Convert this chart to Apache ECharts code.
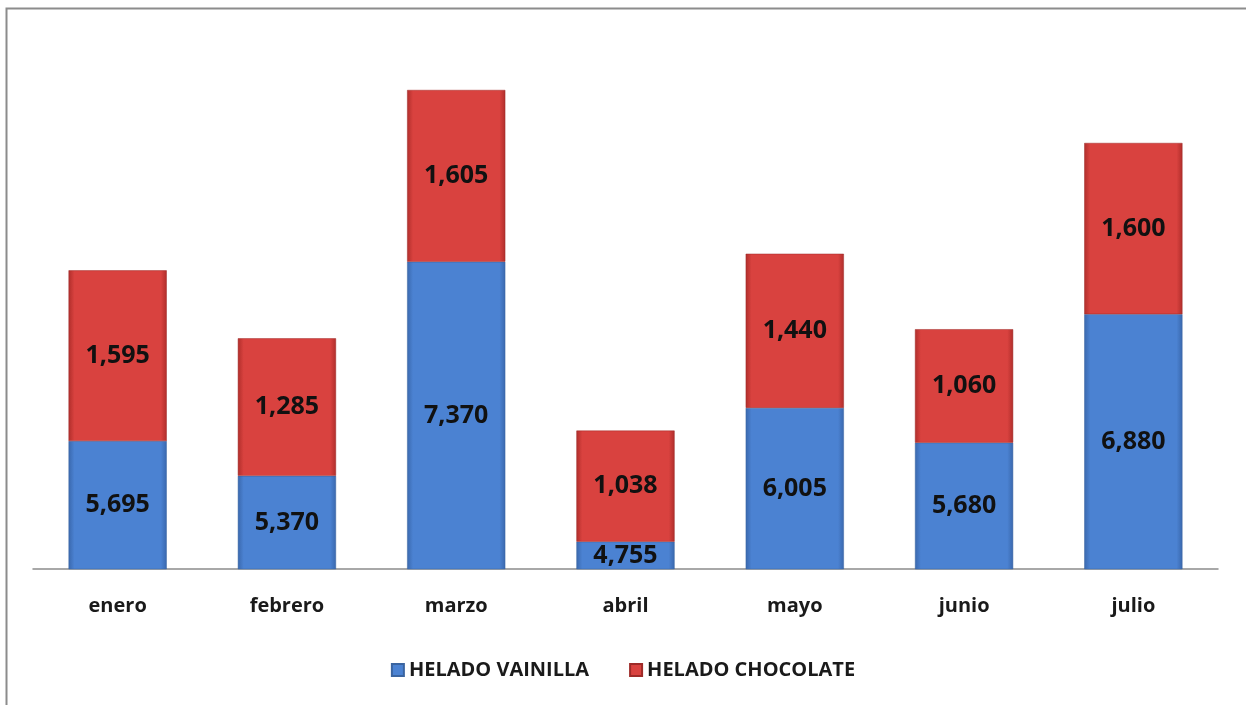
<!DOCTYPE html>
<html><head><meta charset="utf-8">
<script src="https://cdn.jsdelivr.net/npm/echarts@6/dist/echarts.min.js"></script>
<style>html,body{margin:0;padding:0;background:#fff}#c{width:1246px;height:705px}</style>
</head><body><div id="c"></div>
<script>
const categories = ['enero','febrero','marzo','abril','mayo','junio','julio'];
const vainilla = [5695, 5370, 7370, 4755, 6005, 5680, 6880];
const chocolate = [1595, 1285, 1605, 1038, 1440, 1060, 1600];
const seriesNames = ['HELADO VAINILLA', 'HELADO CHOCOLATE'];

const FONT = '"Open Sans", "Noto Sans", sans-serif';
function grad(edge, mid){
  return new echarts.graphic.LinearGradient(0,0,1,0,[
    {offset:0,color:edge},{offset:0.06,color:mid},{offset:0.94,color:mid},{offset:1,color:edge}]);
}
const fmt = p => p.value.toLocaleString('en-US');
const chart = echarts.init(document.getElementById('c'));
chart.setOption({
  animation:false,
  backgroundColor:'#fff',
  graphic:[{type:'rect',shape:{x:6.5,y:8.5,width:1260,height:720},style:{fill:'none',stroke:'#8c8c8c',lineWidth:2}}],
  grid:{left:33,right:28,top:87.3,bottom:136},
  legend:{
    bottom:20,left:'center',itemWidth:12,itemHeight:12,itemGap:40,icon:'rect',
    textStyle:{fontFamily:FONT,fontWeight:'bold',fontSize:20,color:'#1a1a1a'},
    data:seriesNames
  },
  xAxis:{type:'category',data:categories,
    axisLine:{lineStyle:{color:'#8c8c8c',width:1.5}},axisTick:{show:false},
    axisLabel:{margin:27,fontFamily:FONT,fontWeight:'bold',fontSize:20,color:'#1a1a1a'}},
  yAxis:{type:'value',min:4500,max:9000,show:false,splitLine:{show:false}},
  series:[
    {name:seriesNames[0],type:'bar',stack:'t',data:vainilla,barWidth:'58%',
     itemStyle:{color:grad('#3a68ad','#4b82d2'),borderColor:'#3a64a0',borderWidth:0.5},
     label:{show:true,position:'inside',formatter:fmt,fontFamily:FONT,fontWeight:'bold',fontSize:25,color:'#111'}},
    {name:seriesNames[1],type:'bar',stack:'t',data:chocolate,barWidth:'58%',
     itemStyle:{color:grad('#b02e2b','#d9423f'),borderColor:'#9e2a28',borderWidth:0.5},
     label:{show:true,position:'inside',formatter:fmt,fontFamily:FONT,fontWeight:'bold',fontSize:25,color:'#111'}}
  ]
});
</script></body></html>
